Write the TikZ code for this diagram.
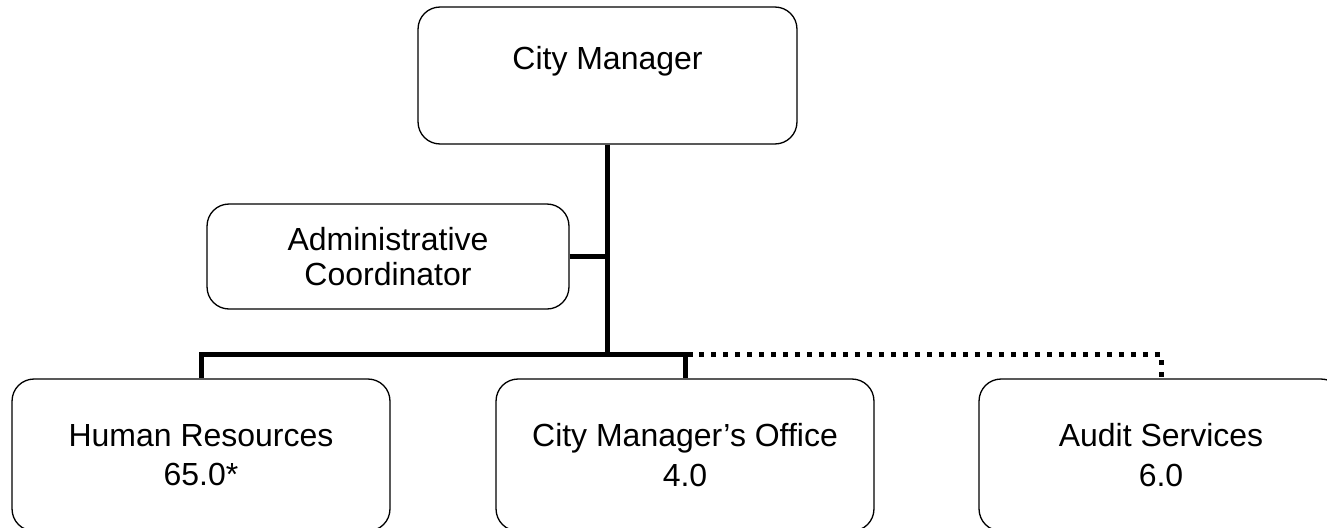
\documentclass[tikz,border=0pt]{standalone}
\usepackage{fontspec}
\setmainfont{Liberation Sans}
\begin{document}
\begin{tikzpicture}[x=0.02cm, y=-0.02cm,
        caja/.style={draw, line width=0.75pt, rounded corners=0.44cm, align=center, inner sep=0pt, font=\fontsize{18.2}{22.5}\selectfont},
        tronco/.style={line width=0.1cm},
        punteado/.style={line width=0.1cm, dash pattern=on 0.1cm off 0.14cm}]
        \useasboundingbox (0,0) rectangle (1327,527);
        % Cargo principal
        \node[caja, minimum width=7.58cm, text height=1.24cm, text depth=1.5cm] (cm) at (607.5,75.5) {City Manager};
        % Coordinación administrativa
        \node[caja, font=\fontsize{18.2}{19.5}\selectfont, minimum width=7.24cm, minimum height=2.1cm] (admin) at (388,256.5) {Administrative\\Coordinator};
        % Departamentos
        \node[caja, minimum width=7.56cm, minimum height=3.04cm] (rh) at (201,455) {Human Resources\\65.0*};
        \node[caja, minimum width=7.56cm, minimum height=3.04cm] (oficina) at (685,455) {City Manager’s Office\\4.0};
        \node[caja, minimum width=7.28cm, minimum height=3.04cm] (auditoria) at (1161,455) {Audit Services\\6.0};
        % Líneas de mando
        \coordinate (bus) at (693,354.5);
        \coordinate (inicio) at (699,354.5);
        \draw[tronco] (cm.south) -- (cm.south |- bus);
        \draw[tronco] (admin.east) -- (admin.east -| cm.south);
        \draw[tronco] (rh.north) |- (bus);
        \draw[tronco] (oficina.north) -- (oficina.north |- bus);
        % Dependencia funcional
        \draw[punteado] (inicio) -| (auditoria.north);
    \end{tikzpicture}
\end{document}
